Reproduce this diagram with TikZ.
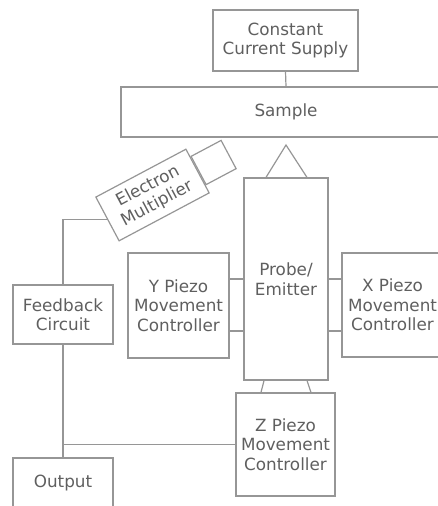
\documentclass[tikz,border=0pt]{standalone}
\usepackage{fontspec}
\setmainfont{DejaVu Sans}
\definecolor{lc}{RGB}{150,150,150}
\definecolor{tc}{RGB}{95,95,95}
\newcommand{\diagfont}{\fontsize{16.8}{19.5}\selectfont}
\begin{document}
\begin{tikzpicture}[x=1pt,y=-1pt,
  box/.style={draw=lc,line width=1.2pt,inner sep=0pt,align=center,text=tc,font=\diagfont},
  wire/.style={draw=lc,line width=1.2pt}]
\useasboundingbox (0,0) rectangle (438,506);
\clip (0,0) rectangle (438,506);
\node[box,minimum width=145,minimum height=61] (C) at (285.5,40.5) {Constant\\Current Supply};
\node[box,minimum width=330,minimum height=50] (S) at (286,112) {Sample};
\node[box,minimum width=84,minimum height=202] (P) at (286,279) {Probe/\\Emitter};
\node[box,minimum width=101,minimum height=105] (Y) at (178.5,305.5) {Y Piezo\\Movement\\Controller};
\node[box,minimum width=101,minimum height=104] (X) at (392.5,305) {X Piezo\\Movement\\Controller};
\node[box,minimum width=100,minimum height=59] (F) at (63,314.5) {Feedback\\Circuit};
\node[box,minimum width=100,minimum height=50] (O) at (63,483) {Output};
\node[box,minimum width=99,minimum height=103] (Z) at (285.5,444.5) {Z Piezo\\Movement\\Controller};
\node[box,rotate=28,minimum width=102,minimum height=49.5] (EM) at (152.5,195) {Electron\\Multiplier};
\node[box,rotate=28,minimum width=34,minimum height=32,anchor=west] (EMs) at (EM.east) {};
% connectors
\draw[wire] (C.south) -- (S.north);
\draw[wire] (Y.east |- P.center) -- (P.west);
\draw[wire] (Y.east |- 0,331) -- (P.west |- 0,331);
\draw[wire] (X.west |- P.center) -- (P.east);
\draw[wire] (X.west |- 0,331) -- (P.east |- 0,331);
\draw[wire] ([xshift=-20pt]P.north) -- (286,145) -- ([xshift=21pt]P.north);
\draw[wire] ([xshift=-22pt]P.south) -- ([xshift=-24.5pt]Z.north);
\draw[wire] ([xshift=21pt]P.south) -- ([xshift=25.5pt]Z.north);
\draw[wire] (F.north) |- (EM.west);
\draw[wire] (F.south) -- (O.north);
\draw[wire] (Z.west) -- (F.south |- Z.west);
\end{tikzpicture}
\end{document}
